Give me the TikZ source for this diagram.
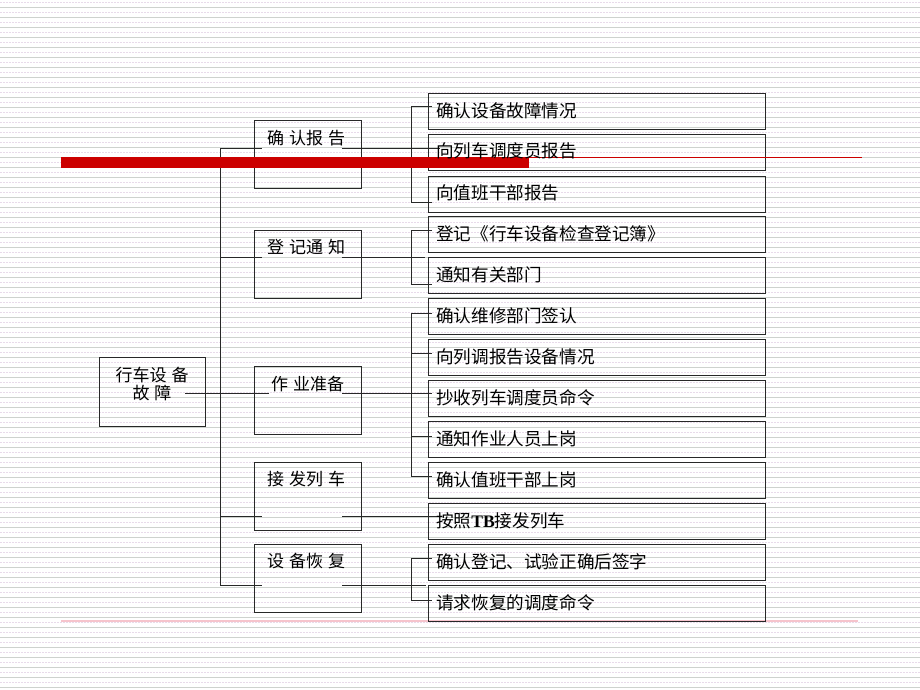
\documentclass[tikz,border=0pt]{standalone}
\usepackage{fontspec}
\setmainfont{Liberation Serif}
\newfontfamily\cjk{Noto Sans CJK SC}
\definecolor{bgsolid}{RGB}{206,210,206}
\definecolor{bgdot}{RGB}{232,218,234}
\definecolor{barred}{RGB}{204,0,0}
\definecolor{footpink}{RGB}{246,196,204}
\definecolor{edge}{RGB}{40,40,40}
\tikzset{
  boxshape/.style={draw=edge, line width=1pt, anchor=north west, inner sep=0pt},
  rbox/.style={boxshape, minimum width=337pt, minimum height=36pt},
  mbox/.style={boxshape, minimum width=107pt, minimum height=68pt},
  rtext/.style={anchor=west, inner sep=0pt, font=\cjk\fontsize{17.6}{20}\selectfont},
  mtext/.style={anchor=west, inner sep=0pt, font=\cjk\fontsize{17}{20}\selectfont},
  conn/.style={draw=edge, line width=1pt},
}
\begin{document}
\begin{tikzpicture}[x=1pt,y=-1pt]
\useasboundingbox (0,0) rectangle (920,690);
\fill[white] (0,0) rectangle (920,690);
% background ruling
\foreach \k in {0,...,137}{
  \pgfmathsetmacro{\yy}{2+5*\k}
  \ifodd\k
    \draw[bgsolid, line width=0.7pt] (0,\yy) -- (920,\yy);
  \else
    \draw[bgdot, line width=0.7pt, dash pattern=on 1.5pt off 1.5pt] (0,\yy) -- (920,\yy);
  \fi
}
% footer line
\draw[footpink, line width=1.2pt] (61,621) -- (858,621);

% root box
\node[boxshape, minimum width=106pt, minimum height=69pt] (root) at (99,357) {};
\node[anchor=center, inner sep=0pt, align=center, font=\cjk\fontsize{17}{18}\selectfont] (roott) at (152,384) {行车设\hspace{5pt}备\\故\hspace{5pt}障};

% middle boxes
\node[mbox] (m1) at (254,120) {};
\node[mbox] (m2) at (254,230) {};
\node[mbox] (m3) at (254,366) {};
\node[mbox] (m4) at (254,462) {};
\node[mbox] (m5) at (254,544) {};
\node[mtext] (m1t) at (267,138) {确\hspace{5pt}认报\hspace{5pt}告};
\node[mtext] (m2t) at (267,247) {登\hspace{5pt}记通\hspace{5pt}知};
\node[mtext] (m3t) at (271,384) {作\hspace{5pt}业准备};
\node[mtext] (m4t) at (267,479) {接\hspace{5pt}发列\hspace{5pt}车};
\node[mtext] (m5t) at (267,561) {设\hspace{5pt}备恢\hspace{5pt}复};

% right boxes
\node[rbox] (r1) at (428,93) {};
\node[rbox] (r2) at (428,134) {};
\node[rbox] (r3) at (428,176) {};
\node[rbox] (r4) at (428,216) {};
\node[rbox] (r5) at (428,257) {};
\node[rbox] (r6) at (428,298) {};
\node[rbox] (r7) at (428,339) {};
\node[rbox] (r8) at (428,380) {};
\node[rbox] (r9) at (428,421) {};
\node[rbox] (r10) at (428,462) {};
\node[rbox] (r11) at (428,503) {};
\node[rbox] (r12) at (428,544) {};
\node[rbox] (r13) at (428,585) {};

% coordinates for connectors
\coordinate (rootR) at (185,393);
\coordinate (m3L) at (269,393);
\coordinate (tr1) at (220,148);
\coordinate (tr2) at (220,257);
\coordinate (tr4) at (220,516);
\coordinate (tr5) at (220,585);
\coordinate (m1L) at (262,148);
\coordinate (m2L) at (262,257);
\coordinate (m4L) at (262,516);
\coordinate (m5L) at (262,585);
\coordinate (m1R) at (342,148);
\coordinate (m2R) at (342,257);
\coordinate (m3R) at (342,393);
\coordinate (m4R) at (342,516);
\coordinate (m5R) at (342,585);
\coordinate (e1) at (440,148);
\coordinate (e2) at (425,257);
\coordinate (e3) at (432,393);
\coordinate (e4) at (439,516);
\coordinate (e5) at (426,585);
% bracket corners and ticks
\coordinate (g1a) at (411,107); \coordinate (g1b) at (411,202);
\coordinate (k1) at (432,107); \coordinate (k3) at (432,202);
\coordinate (g2a) at (411,230); \coordinate (g2b) at (411,284);
\coordinate (k4) at (432,230); \coordinate (k5) at (432,284);
\coordinate (g3a) at (411,313); \coordinate (g3b) at (411,476);
\coordinate (k6) at (432,313); \coordinate (k10) at (432,476);
\coordinate (g3c) at (411,353); \coordinate (k7) at (432,353);
\coordinate (g3d) at (411,436); \coordinate (k9) at (432,436);
\coordinate (g5a) at (411,558); \coordinate (g5b) at (411,600);
\coordinate (k12) at (432,558); \coordinate (k13) at (432,600);

% trunk and branches
\draw[conn] (tr1) -- (tr5);
\draw[conn] (tr1) -- (m1L);
\draw[conn] (tr2) -- (m2L);
\draw[conn] (rootR) -- (m3L);
\draw[conn] (tr4) -- (m4L);
\draw[conn] (tr5) -- (m5L);
\draw[conn] (m1R) -- (e1);
\draw[conn] (m2R) -- (e2);
\draw[conn] (m3R) -- (e3);
\draw[conn] (m4R) -- (e4);
\draw[conn] (m5R) -- (e5);
% brackets
\draw[conn] (k1) -- (g1a) -- (g1b) -- (k3);
\draw[conn] (k4) -- (g2a) -- (g2b) -- (k5);
\draw[conn] (k6) -- (g3a) -- (g3b) -- (k10);
\draw[conn] (g3c) -- (k7);
\draw[conn] (g3d) -- (k9);
\draw[conn] (k12) -- (g5a) -- (g5b) -- (k13);

% red bar
\fill[barred] (61,157) rectangle (529,168);
\draw[barred, line width=1pt] (529,157.6) -- (862,157.6);

% right texts
\node[rtext] (r1t) at (436,111) {确认设备故障情况};
\node[rtext] (r2t) at (436,151) {向列车调度员报告};
\node[rtext] (r3t) at (436,193) {向值班干部报告};
\node[rtext] (r4t) at (436,234) {登记《行车设备检查登记簿》};
\node[rtext] (r5t) at (436,275) {通知有关部门};
\node[rtext] (r6t) at (436,316) {确认维修部门签认};
\node[rtext] (r7t) at (436,357) {向列调报告设备情况};
\node[rtext] (r8t) at (436,398) {抄收列车调度员命令};
\node[rtext] (r9t) at (436,439) {通知作业人员上岗};
\node[rtext] (r10t) at (436,480) {确认值班干部上岗};
\node[rtext] (r11t) at (436,521) {按照{\rmfamily\bfseries TB}接发列车};
\node[rtext] (r12t) at (436,562) {确认登记、试验正确后签字};
\node[rtext] (r13t) at (436,603) {请求恢复的调度命令};
\end{tikzpicture}
\end{document}
